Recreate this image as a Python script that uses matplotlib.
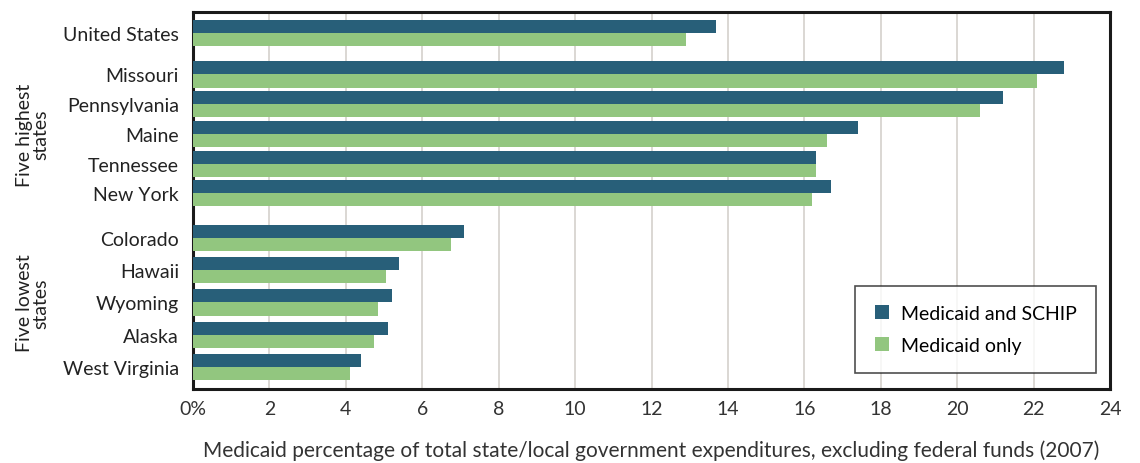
import numpy as np
import matplotlib.pyplot as plt
from matplotlib.patches import Patch

plt.rcParams['font.family'] = ['Lato', 'DejaVu Sans']

# === Data ===
states = ['United States', 'Missouri', 'Pennsylvania', 'Maine', 'Tennessee', 'New York',
          'Colorado', 'Hawaii', 'Wyoming', 'Alaska', 'West Virginia']
groups = [0, 1, 1, 1, 1, 1, 2, 2, 2, 2, 2]
medicaid_schip = [13.7, 22.8, 21.2, 17.4, 16.3, 16.7, 7.1, 5.4, 5.2, 5.1, 4.4]
medicaid_only = [12.9, 22.1, 20.6, 16.6, 16.3, 16.2, 6.75, 5.05, 4.85, 4.75, 4.1]
xticks = list(range(0, 25, 2))
xtick_labels = ['0%'] + [str(t) for t in xticks[1:]]

dark = '#285f79'
green = '#92c67f'

# row positions: extra gap between groups, lower group slightly wider pitch
pitch = {0: 1.0, 1: 1.0, 2: 1.09}
pos = []
y = 0.0
for i, g in enumerate(groups):
    if i > 0:
        y += pitch[g]
        if g != groups[i - 1]:
            y += 0.4
    pos.append(y)
pos = np.array(pos)
h = 0.44

fig = plt.figure(figsize=(11.4, 4.64), dpi=100)
ax = fig.add_axes([0.1693, 0.1595, 0.8044, 0.8125])

ax.barh(pos - h / 2, medicaid_schip, height=h, color=dark, zorder=3)
ax.barh(pos + h / 2, medicaid_only, height=h, color=green, zorder=3)

ax.set_xlim(0, 24)
ax.set_ylim(pos[-1] + 0.73, -0.7)
ax.set_xticks(xticks)
ax.set_xticklabels(xtick_labels, fontsize=14, color='#333333')
ax.set_yticks(pos)
ax.set_yticklabels(states, fontsize=14, color='#222222')
ax.tick_params(axis='both', length=0)
ax.tick_params(axis='x', pad=8)
ax.tick_params(axis='y', pad=10)

for t in xticks[1:-1]:
    ax.axvline(t, color='#d8d4d0', lw=1.3, zorder=1)

for s in ax.spines.values():
    s.set_color('#1a1a1a')
    s.set_linewidth(2.2)

ax.set_xlabel('Medicaid percentage of total state/local government expenditures, excluding federal funds (2007)',
              fontsize=15, color='#333333', labelpad=16)

# group labels
top_mid = pos[1:6].mean()
low_mid = pos[6:].mean()
for label, yy in [('Five highest\nstates', top_mid), ('Five lowest\nstates', low_mid)]:
    ax.text(-0.175, yy, label, transform=ax.get_yaxis_transform(), rotation=90,
            ha='center', va='center', fontsize=14, color='#222222', linespacing=0.95)

handles = [Patch(facecolor=dark, label='Medicaid and SCHIP'),
           Patch(facecolor=green, label='Medicaid only')]
leg = ax.legend(handles=handles, loc='lower right', bbox_to_anchor=(0.985, 0.042),
                borderaxespad=0, fontsize=14, frameon=True, fancybox=False,
                edgecolor='#222222', handlelength=0.75, handleheight=0.75,
                handletextpad=0.6, borderpad=1.0, labelspacing=0.75)
leg.get_frame().set_linewidth(1.2)
leg.set_zorder(5)

fig.savefig('out.png', dpi=100, facecolor='white')
